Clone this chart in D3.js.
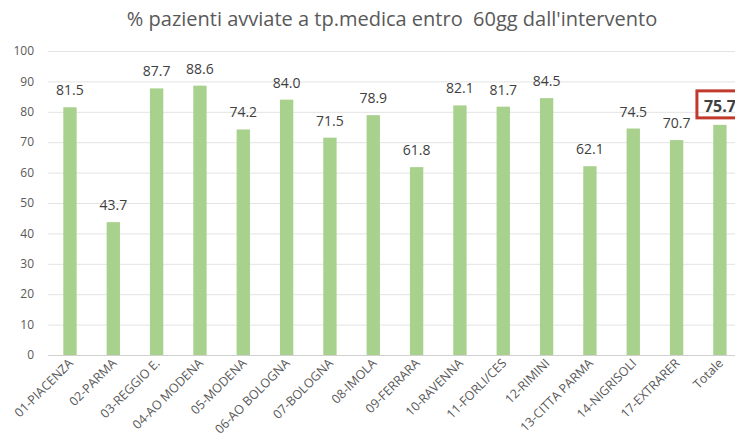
<!DOCTYPE html>
<html>
<head>
<meta charset="utf-8">
<script src="https://cdn.jsdelivr.net/npm/d3@7"></script>
<style>
  body { margin: 0; background: #fff; overflow: hidden; }
  svg { font-family: "Open Sans", "Liberation Sans", sans-serif; }
</style>
</head>
<body>
<div id="foo"></div>
<script>
// dati del grafico
var categories = ["01-PIACENZA", "02-PARMA", "03-REGGIO E.", "04-AO MODENA", "05-MODENA",
  "06-AO BOLOGNA", "07-BOLOGNA", "08-IMOLA", "09-FERRARA", "10-RAVENNA", "11-FORLI/CES",
  "12-RIMINI", "13-CITTA PARMA", "14-NIGRISOLI", "17-EXTRARER", "Totale"];
var values = [81.5, 43.7, 87.7, 88.6, 74.2, 84.0, 71.5, 78.9, 61.8, 82.1, 81.7, 84.5, 62.1, 74.5, 70.7, 75.7];
var yTicks = [0, 10, 20, 30, 40, 50, 60, 70, 80, 90, 100];
var title = "% pazienti avviate a tp.medica entro  60gg dall'intervento";

var W = 735, H = 448;
var svg = d3.select('#foo').append("svg")
  .attr("width", W)
  .attr("height", H);

var step = 43.33;
var x = d3.scaleBand()
  .domain(categories)
  .range([48, 48 + step * (categories.length - 0.692 + 0.706)])
  .paddingInner(0.692)
  .paddingOuter(0.353);

var y = d3.scaleLinear()
  .domain([0, 100])
  .range([355, 51]);

svg.append("text")
  .attr("x", 392)
  .attr("y", 26)
  .attr("text-anchor", "middle")
  .style("white-space", "pre")
  .style("font-size", "20px")
  .style("fill", "#595959")
  .text(title);

// griglia
svg.append("g").selectAll("line")
  .data(yTicks)
  .enter().append("line")
  .attr("x1", 48)
  .attr("x2", W)
  .attr("y1", function(d) { return y(d) + 0.5; })
  .attr("y2", function(d) { return y(d) + 0.5; })
  .style("stroke", function(d) { return d === 0 ? "#d0d0d0" : "#e3e3e3"; })
  .style("stroke-width", 1);

svg.append("g").selectAll("text")
  .data(yTicks)
  .enter().append("text")
  .attr("x", 34)
  .attr("y", function(d) { return y(d); })
  .attr("dy", "0.35em")
  .attr("text-anchor", "end")
  .style("font-size", "12px")
  .style("fill", "#595959")
  .text(function(d) { return d; });

// barre
svg.append("g").selectAll("rect")
  .data(values)
  .enter().append("rect")
  .attr("x", function(d, i) { return x(categories[i]); })
  .attr("y", function(d) { return y(d); })
  .attr("width", x.bandwidth())
  .attr("height", function(d) { return y(0) - y(d); })
  .style("fill", "#a9d18e");

// etichette valori
var last = values.length - 1;
svg.append("g").selectAll("text")
  .data(values)
  .enter().append("text")
  .attr("x", function(d, i) { return x(categories[i]) + x.bandwidth() / 2; })
  .attr("y", function(d, i) { return i === last ? y(d) - 13 : y(d) - 12; })
  .attr("text-anchor", "middle")
  .style("font-size", function(d, i) { return i === last ? "16px" : "14px"; })
  .style("font-weight", function(d, i) { return i === last ? "bold" : "normal"; })
  .style("fill", "#404040")
  .text(function(d) { return d.toFixed(1); });

// riquadro rosso sul totale
var tx = x(categories[last]) + x.bandwidth() / 2;
svg.append("rect")
  .attr("x", tx - 23)
  .attr("y", y(values[last]) - 34)
  .attr("width", 46)
  .attr("height", 27)
  .style("fill", "none")
  .style("stroke", "#c0392b")
  .style("stroke-width", 3);

// etichette categorie
svg.append("g").selectAll("text")
  .data(categories)
  .enter().append("text")
  .attr("transform", function(d) {
    return "translate(" + (x(d) + x.bandwidth() / 2 + 4) + "," + 364 + ") rotate(-45)";
  })
  .attr("text-anchor", "end")
  .style("font-size", "12.5px")
  .style("fill", "#595959")
  .text(function(d) { return d; });
</script>
</body>
</html>
